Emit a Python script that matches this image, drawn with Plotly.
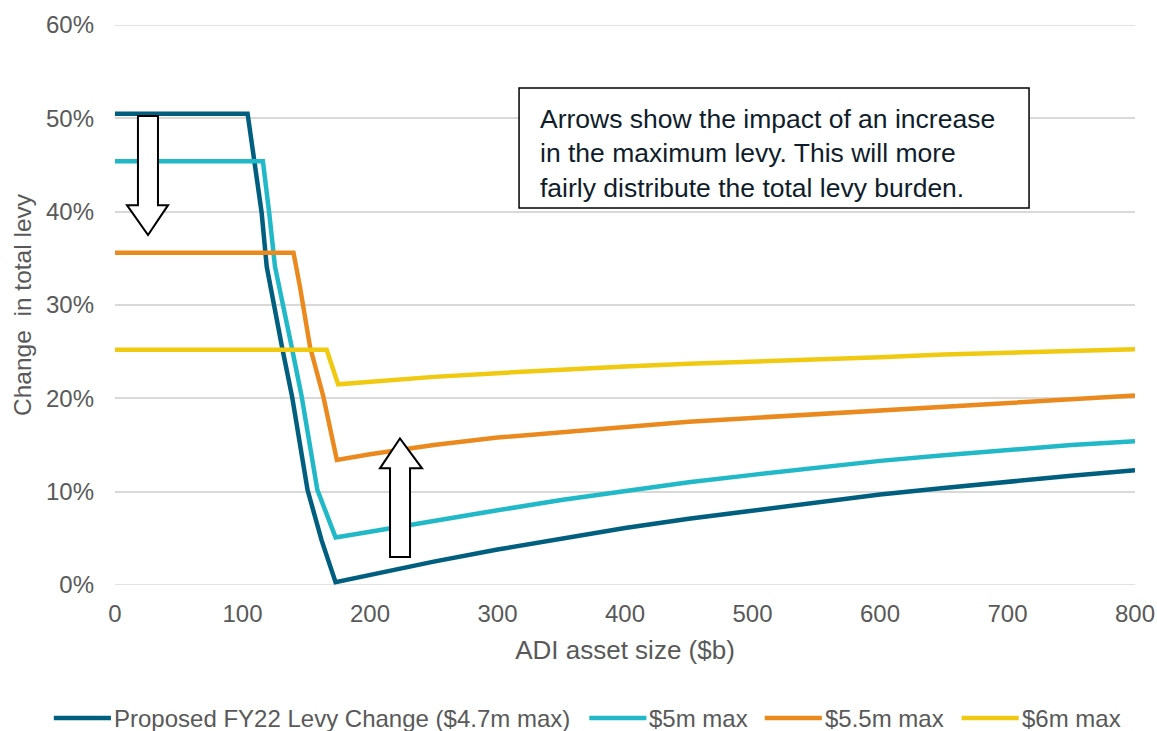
import plotly.graph_objects as go

# ADI asset size ($b) and change in total levy (%) for each maximum-levy scenario
dark_x = [0, 104, 115, 119, 131, 139, 151, 162, 173, 200, 250, 300, 350, 400, 450, 500, 550, 600, 650, 700, 750, 800]
dark_y = [50.5, 50.5, 39.9, 34.1, 25.5, 20.1, 10.2, 4.8, 0.3, 1.1, 2.5, 3.8, 5.0, 6.1, 7.1, 8.0, 8.9, 9.7, 10.4, 11.1, 11.7, 12.3]

cyan_x = [0, 116, 121, 125.5, 138.6, 146.4, 158.7, 173, 200, 250, 300, 350, 400, 450, 500, 550, 600, 650, 700, 750, 800]
cyan_y = [45.4, 45.4, 39.8, 34.1, 25.5, 20.2, 10.2, 5.1, 5.7, 6.9, 8.0, 9.1, 10.1, 11.0, 11.8, 12.6, 13.3, 13.9, 14.5, 15.0, 15.4]

orange_x = [0, 140, 145, 153, 163.4, 168, 174, 200, 250, 300, 350, 400, 450, 500, 550, 600, 650, 700, 750, 800]
orange_y = [35.6, 35.6, 32.0, 25.5, 20.2, 17.0, 13.4, 14.0, 15.0, 15.8, 16.4, 17.0, 17.5, 17.9, 18.3, 18.7, 19.1, 19.5, 19.9, 20.3]

yellow_x = [0, 166, 175, 200, 250, 300, 350, 400, 450, 500, 550, 600, 650, 700, 750, 800]
yellow_y = [25.2, 25.2, 21.5, 21.8, 22.3, 22.7, 23.1, 23.4, 23.7, 23.9, 24.2, 24.4, 24.7, 24.9, 25.1, 25.25]

series_names = ["Proposed FY22 Levy Change ($4.7m max)", "$5m max", "$5.5m max", "$6m max"]
series_colors = ["#005f7f", "#21b8c7", "#ea8a1e", "#f0c911"]

FONT = "Arial, Liberation Sans, sans-serif"
GREY = "#595959"

fig = go.Figure()
for xs, ys, name, color in zip(
    [dark_x, cyan_x, orange_x, yellow_x],
    [dark_y, cyan_y, orange_y, yellow_y],
    series_names, series_colors,
):
    fig.add_trace(go.Scatter(
        x=xs, y=ys, name=name, mode="lines",
        line=dict(color=color, width=4.5),
        showlegend=False,
        hovertemplate="%{x}: %{y:.1f}%<extra>" + name + "</extra>",
    ))

# horizontal gridlines at the ends of the value range
for gy in (0, 60):
    fig.add_shape(type="line", xref="paper", yref="y", x0=0, x1=1, y0=gy, y1=gy,
                  line=dict(color="#d9d9d9", width=1.5), layer="below")

# block arrows illustrating the effect of a higher maximum levy
down_arrow = "M 18,50.25 L 33.7,50.25 L 33.7,40.7 L 41.6,40.7 L 25.9,37.5 L 9.4,40.7 L 18,40.7 Z"
up_arrow = "M 215.7,3.0 L 231.4,3.0 L 231.4,12.5 L 240.8,12.5 L 223.5,15.7 L 207.8,12.5 L 215.7,12.5 Z"
for p in (down_arrow, up_arrow):
    fig.add_shape(type="path", path=p, xref="x", yref="y",
                  fillcolor="white", line=dict(color="black", width=2))

# explanatory text box
fig.add_shape(type="rect", xref="x", yref="y", x0=316.9, x1=716.9, y0=40.4, y1=53.25,
              fillcolor="white", line=dict(color="black", width=1.5))
fig.add_annotation(
    x=331.5, y=46.25, xref="x", yref="y", xanchor="left", yanchor="middle",
    text="Arrows show the impact of an increase<br>in the maximum levy. This will more<br>fairly distribute the total levy burden.",
    showarrow=False, align="left",
    font=dict(family=FONT, size=26.5, color="#0f1d2b"),
)

# legend row beneath the chart: a line sample followed by the series name
legend_y = -0.2375
legend_starts = [-0.060, 0.465, 0.637, 0.830]   # left edge of each line sample
sample_len = 0.056
for name, color, x0 in zip(series_names, series_colors, legend_starts):
    fig.add_shape(type="line", xref="paper", yref="paper",
                  x0=x0, x1=x0 + sample_len, y0=legend_y, y1=legend_y,
                  line=dict(color=color, width=4.5))
    fig.add_annotation(x=x0 + sample_len + 0.001, y=legend_y, xref="paper", yref="paper",
                       xanchor="left", yanchor="middle", showarrow=False,
                       text=name, font=dict(family=FONT, size=24, color=GREY))

fig.update_layout(
    width=1157, height=731,
    margin=dict(l=115, r=22, t=25, b=146, autoexpand=False),
    paper_bgcolor="white", plot_bgcolor="white",
    font=dict(family=FONT, color=GREY),
    showlegend=False,
    xaxis=dict(
        range=[0, 800], dtick=100, tick0=0, automargin=False,
        showgrid=False, zeroline=False, showline=False, ticks="",
        ticklabelstandoff=12,
        tickfont=dict(family=FONT, size=24, color=GREY),
        title=dict(text="ADI asset size ($b)", standoff=14,
                   font=dict(family=FONT, size=26, color=GREY)),
    ),
    yaxis=dict(
        range=[0, 60], dtick=10, tick0=0, ticksuffix="%", automargin=False,
        showgrid=True, gridcolor="#d9d9d9", gridwidth=1.5,
        zeroline=False, showline=False, ticks="",
        ticklabelstandoff=20,
        tickfont=dict(family=FONT, size=24, color=GREY),
        title=dict(text="Change  in total levy", standoff=7,
                   font=dict(family=FONT, size=24.5, color=GREY)),
    ),
)

fig.write_html("out.html")
